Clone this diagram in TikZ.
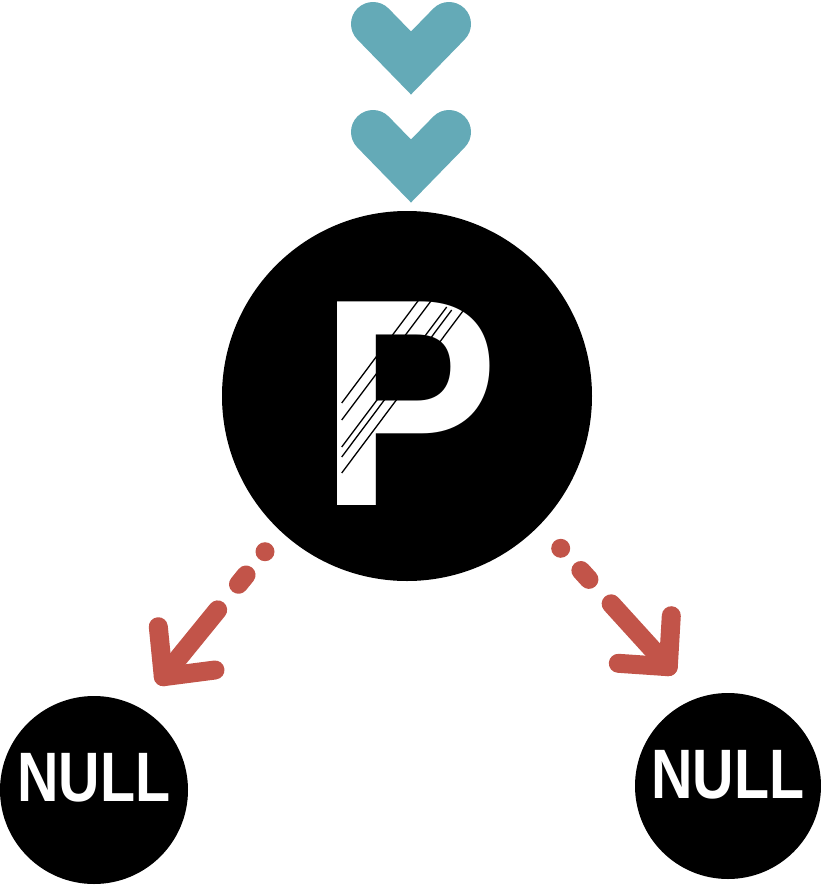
\documentclass[tikz,border=0pt]{standalone}
\usepackage{fontspec}
\setmainfont{Liberation Sans}
\usetikzlibrary{calc}
\definecolor{tealc}{RGB}{100,170,183}
\definecolor{redc}{RGB}{194,84,73}
\begin{document}
\begin{tikzpicture}[x=1pt,y=-1pt,
  chev/.style={draw=tealc, line width=44pt, line cap=round, line join=miter},
  blob/.style={circle, fill=black, draw=none, inner sep=0pt},
  redline/.style={draw=redc, line width=19pt, line cap=round, dash pattern=on 0pt off 30pt on 12pt off 33pt on 400pt},
  redhead/.style={draw=redc, line width=19pt, line cap=round, line join=round},
  stripe/.style={draw=black, line width=1.3pt},
  bigtxt/.style={text=white, inner sep=0pt, font=\bfseries\fontsize{296}{296}\selectfont, xscale=0.91},
  nulltxt/.style={text=white, inner sep=0pt, font=\bfseries\fontsize{70}{70}\selectfont, xscale=0.82}]
\useasboundingbox (0,0) rectangle (821,887);
% chevrons
\draw[chev] (373,24) -- (411,63) -- (449,24);
\draw[chev] (373,132) -- (411,171) -- (449,132);
% circles
\node[blob, minimum size=370pt] (P) at (407,396) {};
\node[blob, minimum size=188pt] (L) at (94,790) {};
\node[blob, minimum size=186pt] (R) at (728,786) {};
% texts
\node[bigtxt] (Pt) at (409.6,404) {P};
\draw[stripe] (341.7,403) -- ++(83,-111);
\draw[stripe] (341.7,420) -- ++(90,-120);
\draw[stripe] (341.7,447) -- ++(105,-140);
\draw[stripe] (341.7,457) -- ++(110,-147);
\draw[stripe] (341.7,473) -- ++(122,-163);
\node[nulltxt] (Lt) at (94,777.5) {NULL};
\node[nulltxt] (Rt) at (727.7,775) {NULL};
% arrows
\coordinate (ls) at (265,551.7);
\coordinate (lt) at (163.3,676.7);
\coordinate (rs) at (560.7,548.3);
\coordinate (rt) at (668.3,666.7);
\draw[redline] (ls) -- (lt);
\draw[redhead] ($(lt)+(-5,-50)$) -- (lt) -- ($(lt)+(51.7,-6.7)$);
\draw[redline] (rs) -- (rt);
\draw[redhead] ($(rt)+(3,-51)$) -- (rt) -- ($(rt)+(-50,-3.4)$);
\end{tikzpicture}
\end{document}
